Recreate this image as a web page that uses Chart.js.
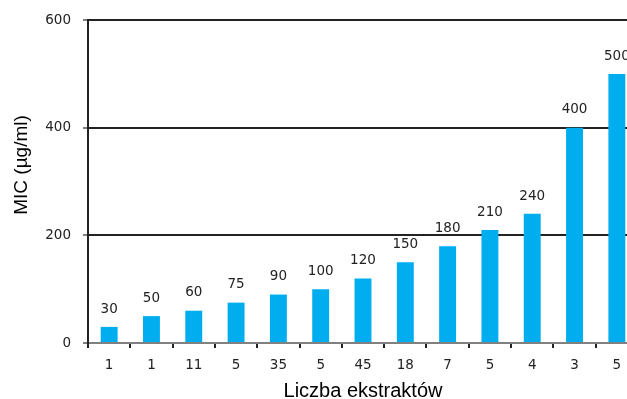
<!DOCTYPE html>
<html>
<head>
<meta charset="utf-8">
<script src="https://cdn.jsdelivr.net/npm/chart.js@4/dist/chart.umd.min.js"></script>
<style>
  html, body { margin: 0; padding: 0; background: #fff; overflow: hidden; }
  #wrap { position: absolute; left: 0; top: 0; width: 650px; height: 399px; }
</style>
</head>
<body>
<div id="wrap"><canvas id="micChart"></canvas></div>
<script>
'use strict';

// liczba ekstraktow (x labels) and MIC values
const extractCounts = ['1', '1', '11', '5', '35', '5', '45', '18', '7', '5', '4', '3', '5'];
const micValues = [30, 50, 60, 75, 90, 100, 120, 150, 180, 210, 240, 400, 500];
const yTicks = [0, 200, 400, 600];

const numFont = { family: 'DejaVu Sans', size: 13.5 };

// draws the value above every bar and the rotated y title
const labelsPlugin = {
    id: 'valueLabels',
    afterDatasetsDraw(chart) {
        const ctx = chart.ctx;
        const meta = chart.getDatasetMeta(0);
        ctx.save();
        ctx.font = '13.5px "DejaVu Sans"';
        ctx.fillStyle = '#222';
        ctx.textAlign = 'center';
        ctx.textBaseline = 'bottom';
        meta.data.forEach((bar, i) => {
            ctx.fillText(String(micValues[i]), bar.x, bar.y - 11);
        });
        ctx.restore();

        ctx.save();
        ctx.font = '19px "Liberation Sans"';
        ctx.fillStyle = '#000';
        ctx.textAlign = 'center';
        ctx.textBaseline = 'middle';
        ctx.translate(22, 165);
        ctx.rotate(-Math.PI / 2);
        ctx.fillText('MIC (µg/ml)', 0, 0);
        ctx.restore();
    }
};

let micChart = document.querySelector('#micChart');
new Chart(micChart, {
    type: 'bar',
    data: {
        labels: extractCounts,
        datasets: [
            {
                data: micValues,
                backgroundColor: '#00AEEF',
                barPercentage: 0.4,
                categoryPercentage: 1.0
            }
        ]
    },
    plugins: [labelsPlugin],
    options: {
        responsive: true,
        maintainAspectRatio: false,
        animation: false,
        layout: { padding: { top: 20, right: 12, left: 0, bottom: 0 } },
        plugins: {
            legend: { display: false },
            tooltip: { enabled: false }
        },
        scales: {
            x: {
                afterFit(scale) { scale.height = 56; },
                grid: {
                    offset: true,
                    drawOnChartArea: false,
                    color: '#222',
                    lineWidth: 2,
                    tickLength: 5
                },
                border: { color: '#808080', width: 2 },
                ticks: { color: '#222', font: numFont, padding: 9 },
                title: {
                    display: true,
                    text: 'Liczba ekstraktów',
                    color: '#000',
                    font: { family: 'Liberation Sans', size: 20, lineHeight: 0.8 },
                    padding: { top: 0, bottom: 0 }
                }
            },
            y: {
                min: 0,
                max: 600,
                afterFit(scale) { scale.width = 88; },
                afterBuildTicks(scale) {
                    scale.ticks = yTicks.map(v => ({ value: v }));
                },
                grid: {
                    color: ctx => ctx.tick && ctx.tick.value === 0 ? 'rgba(0,0,0,0)' : '#222',
                    tickColor: '#808080',
                    lineWidth: 2,
                    tickLength: 5
                },
                border: { color: '#222', width: 2 },
                ticks: { color: '#222', font: numFont, padding: 12 }
            }
        }
    }
});
</script>
</body>
</html>
